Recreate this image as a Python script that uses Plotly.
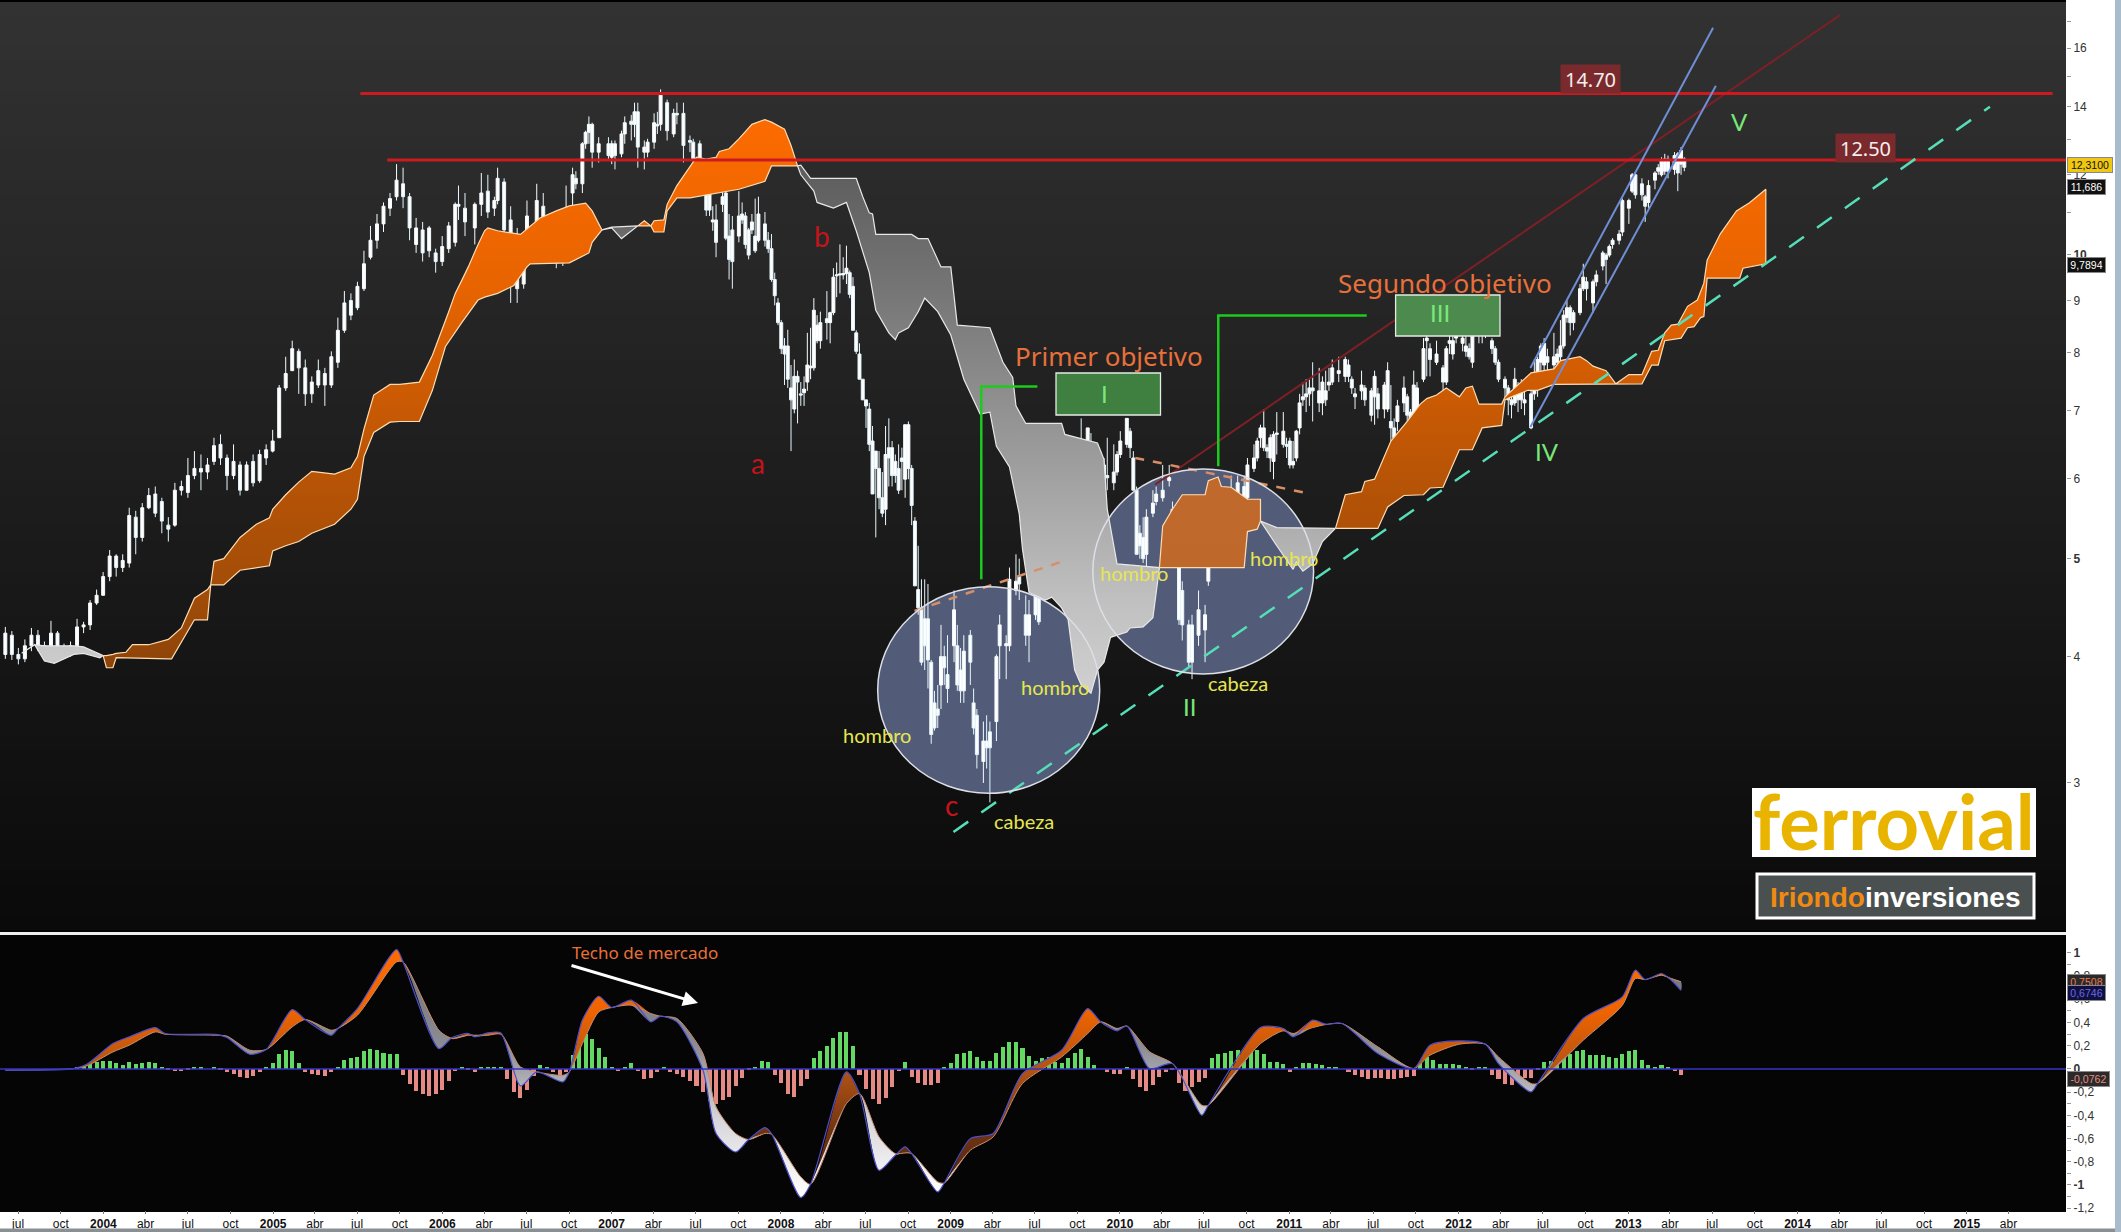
import math
import pandas as pd
import plotly.graph_objects as go

W, H = 2121, 1232
PLOT_R = 2066
T0 = pd.Timestamp("2003-06-03 12:00")
WEEK_DAYS = 7.03

# ---------- weekly candles (week number since start, prices in euros) ----------
bar_weeks = [
    0,2,4,6,8,10,12,14,16,18, 20,22,24,26,28,30,32,34,36,38, 40,42,44,46,48,50,52,54,56,58,
    60,62,64,66,68,70,72,74,76,78, 80,82,84,86,88,90,92,94,96,98, 100,102,104,106,108,110,112,114,116,118, 120,
    122,124,126,128,130,132,134,136,138,139, 141,144,146,148,150,151,153,155,157,159,
    160,163,165,167,169,171,172,174,175,177, 178,179,180,182,185,186,187,189,190,192,
    193,194,196,197,199,200,201,203,205,206, 208,210,211,213,
    215,216,217,218,220,221,222,223,225,226, 227,228,229,230,231,233,234,235,236,237,
    238,239,240,241,242,243,244,245,246,247, 248,249,250,252,253,254,255,256,257,258,
    259,260,261,262,263,264,265,266,267,268, 269,270,271,272,273,274,275,276,277,278,
    279,280,281,282,283,284,285,286,287,288, 289,291,292,293,294,296,297,298,300,301,
    302,304,305,307,308,310,311,313,314,316, 317,319,321,324,326,327,328,329,330,332,
    333,334,336,337,338,340,341,342,344,345, 346,347,348,349,350,352,353,355,357,358,
    360,361,363,364,366,368,369,371,372,374, 375,376,378,380,381,383,384,385,386,387,
    388,389,390,392,393,394,395,396,397,398, 399,400,401,403,404,405,406,407,409,411,
    412,413,414,416,417,419,420,421,423,424, 425,426,427,429,430,431,432,433,435,436,
    437,439,441,442,443,444,445,447,448,449, 450,452,453,454,456,457,458,460,461,462,
    463,464,465,466,468,469,470,471,472,473, 475,476,477,478,479,480,481,483,484,485,
    487,488,490,491,492,493,495,496,498,499, 500,502,503,504,506,507,508,509,510,512,
    513,514,515]
bar_open = [
    4.02,4.2,4.02,3.98,4.1,4.2,4.1,4.0,4.22,4.05, 4.05,4.1,4.28,4.3,4.52,4.6,4.8,5.03,4.9,4.95,
    5.5,5.25,5.62,5.8,5.7,5.4,5.4,5.85,5.82,6.05, 6.15,6.1,6.25,6.5,6.3,6.05,6.2,5.85,6.25,5.98,
    6.3,6.4,6.6,7.4,7.7,8.05,7.75,7.3,7.45,7.65, 7.45,7.85,8.45,9.05,8.9,9.3,10.0,10.4,10.8,11.2, 11.5,
    11.85,11.5,10.3,10.65,10.15,10.1,9.9,10.2,10.35,11.3, 11.2,10.7,11.3,11.65,11.2,11.4,11.9,10.9,9.6,9.4,
    10.4,10.2,11.25,10.6,10.75,10.0,10.3,11.6,12.0,11.85, 13.0,13.35,13.6,12.75,13.0,12.6,13.0,12.7,13.3,13.7,
    13.6,14.0,12.9,12.75,13.05,13.6,13.6,14.3,13.3,13.95, 13.95,13.1,13.05,13.0,
    12.1,11.6,10.85,10.9,11.3,11.6,10.5,10.65,10.5,11.05, 11.0,10.65,10.65,10.5,10.4,10.8,10.4,10.2,9.5,9.0,
    8.6,8.15,8.15,7.4,7.05,7.6,7.3,7.32,7.5,7.75, 7.75,8.25,8.25,8.68,8.6,8.8,9.58,9.6,9.6,9.63,
    9.65,9.35,8.4,8.0,7.55,7.2,7.05,6.55,6.4,6.15, 5.75,5.6,6.45,6.45,6.25,6.15,6.3,6.0,6.15,6.15,
    5.45,4.66,4.47,4.36,4.36,3.95,3.6,3.55,3.75,4.0, 3.84,4.1,4.1,3.88,3.7,4.2,3.6,3.5,3.15,3.3,
    3.37,3.45,4.1,4.1,4.1,4.65,4.8,4.4,4.2,4.4, 4.8,4.8,5.0,4.9,5.15,5.1,5.7,6.2,6.55,6.45,
    6.4,5.85,6.2,5.85,6.05,6.1,6.1,6.35,6.5,6.7, 6.3,5.85,5.3,5.25,5.05,5.55,5.7,5.75,5.98,5.6,
    5.2,4.65,4.3,4.3,4.2,4.25,4.75,5.3,5.4,5.3, 5.35,5.65,5.8,5.9,5.75,6.15,6.3,6.6,6.45,6.45,
    6.3,6.25,6.65,6.5,6.5,6.55,6.2,6.3,6.75,7.2, 7.25,7.3,7.4,7.15,7.15,7.2,7.45,7.5,7.65,7.6,
    7.8,7.55,7.3,7.35,7.4,7.35,7.25,7.3,7.05,7.05, 6.85,6.75,6.85,7.15,7.25,7.0,6.9,6.9,7.55,8.25,
    8.1,7.85,7.75,7.5,8.2,8.0,8.3,8.2,8.05,8.1, 7.85,8.45,8.4,8.4,8.25,8.1,7.85,7.55,7.4,7.2,
    7.15,7.4,7.2,7.15,7.3,7.3,7.55,7.85,7.8,7.85, 7.8,7.85,7.95,8.15,8.7,8.9,8.8,8.8,9.3,9.45,
    9.0,9.45,9.8,10.05,10.05,10.3,10.4,10.6,11.2,11.65, 12.1,11.85,11.5,11.35,11.95,12.2,12.1,12.2,12.55,12.25,
    12.7,12.4,12.55]
bar_close = [
    4.22,4.02,3.98,4.1,4.2,4.1,4.0,4.22,4.05,4.08, 4.1,4.28,4.3,4.52,4.6,4.8,5.03,4.9,4.98,5.52,
    5.25,5.62,5.78,5.55,5.45,5.35,5.85,5.9,6.05,6.15, 6.1,6.2,6.48,6.3,6.05,6.25,5.85,6.2,5.95,6.35,
    6.42,6.55,7.4,7.65,8.1,7.75,7.3,7.5,7.7,7.45, 7.95,8.45,9.0,8.75,9.35,9.85,10.4,10.8,11.25,11.45, 11.95,
    11.5,10.7,10.7,10.1,10.7,9.9,10.25,10.75,11.3,11.25, 10.85,11.3,11.6,11.1,11.4,12.0,10.65,9.65,9.3,10.1,
    11.0,11.4,10.6,10.7,10.15,10.2,11.15,12.1,11.85,13.0, 13.35,13.6,12.75,13.0,12.65,13.0,12.65,13.3,13.65,13.6,
    14.0,12.9,12.75,13.05,13.65,13.55,14.55,13.4,13.95,13.9, 12.95,13.05,12.55,12.3,
    11.15,11.15,10.9,10.35,11.5,10.45,9.95,9.9,11.0,10.9, 10.3,10.05,10.85,10.15,11.05,10.4,10.2,9.5,9.15,8.6,
    8.1,8.0,7.55,7.2,7.6,7.5,7.28,7.38,7.8,7.78, 8.85,8.55,8.6,8.6,8.8,9.55,9.6,9.62,9.63,9.75,
    9.18,8.45,8.05,7.55,7.2,7.1,6.5,5.8,6.15,5.75, 5.55,6.35,6.3,6.05,6.05,5.85,6.25,6.8,6.8,5.65,
    4.7,4.47,3.95,4.1,3.97,3.35,3.4,3.5,4.0,3.9, 3.72,4.45,3.75,3.7,4.05,3.95,3.4,3.2,3.3,3.25,
    3.25,4.0,4.3,4.12,4.77,4.75,4.72,4.2,4.4,4.8, 4.33,5.15,4.95,5.1,4.95,5.68,6.35,6.55,6.4,6.75,
    5.55,6.2,5.95,6.2,6.02,5.95,6.35,6.55,6.9,6.45, 5.85,5.05,5.15,5.0,5.5,5.68,5.8,5.85,6.02,5.05,
    4.35,4.3,3.95,3.95,4.45,4.4,5.3,5.45,5.55,5.03, 5.5,5.87,5.95,5.75,6.2,6.3,6.55,6.75,6.75,6.4,
    6.6,6.65,6.67,6.7,6.47,6.2,6.25,6.7,7.15,7.25, 7.3,7.4,7.35,7.35,7.5,7.35,7.5,7.75,7.7,7.9,
    7.6,7.4,7.25,7.45,7.2,6.95,7.6,7.05,7.45,7.7, 6.75,6.6,7.1,7.4,6.95,6.75,7.45,7.4,8.1,8.3,
    7.9,8.0,7.5,8.1,8.25,8.25,8.35,8.3,8.15,7.95, 8.35,8.4,8.45,8.42,8.1,7.85,7.55,7.4,7.2,7.12,
    7.55,7.2,7.35,7.2,6.75,7.47,7.9,8.15,8.2,7.95, 7.95,8.0,8.15,8.75,8.9,8.6,8.6,9.3,9.55,9.3,
    9.45,9.6,10.1,9.95,10.25,10.4,10.55,11.4,11.4,12.1, 11.55,11.55,11.25,11.8,12.15,12.3,12.5,12.55,12.2,12.65,
    12.15,12.8,12.31]
bar_high = [
    4.28,4.24,4.08,4.16,4.27,4.25,4.14,4.34,4.24,4.12, 4.14,4.36,4.33,4.55,4.66,4.85,5.1,5.05,5.05,5.62,
    5.58,5.68,5.88,5.9,5.75,5.5,5.95,5.98,6.3,6.4, 6.35,6.3,6.6,6.65,6.35,6.5,6.25,6.25,6.35,6.42,
    6.5,6.72,7.45,7.95,8.25,8.1,7.9,7.6,7.9,7.75, 8.05,8.7,9.25,9.2,9.45,10.15,10.75,11.05,11.35,11.6, 12.4,
    12.3,11.6,10.95,10.85,10.75,10.2,10.5,10.85,11.35,11.8, 11.6,11.35,12.15,12.1,11.5,12.3,12.0,11.25,10.7,10.55,
    11.4,11.85,11.6,10.95,10.85,10.4,11.8,12.3,12.2,13.05, 13.4,13.85,13.65,13.2,13.2,13.1,13.1,13.4,13.85,13.9,
    14.3,14.3,13.1,13.15,13.95,14.0,14.75,14.4,14.1,14.3, 14.3,13.25,13.15,13.1,
    12.3,11.8,11.25,11.3,11.8,11.7,11.05,11.0,11.65,11.35, 11.1,10.7,11.05,11.45,11.5,11.1,10.6,10.55,9.65,9.1,
    8.65,8.3,8.46,7.8,7.9,7.7,7.5,7.6,8.4,8.5, 9.1,8.75,8.82,9.25,8.82,9.75,9.88,10.3,10.0,10.27,
    9.7,9.55,8.45,8.2,7.55,7.2,7.15,6.78,6.4,6.4, 6.1,6.78,6.9,6.55,6.35,6.5,6.45,6.8,6.85,6.2,
    5.5,5.15,4.77,4.77,4.72,3.97,3.7,3.75,4.3,4.1, 4.2,4.65,4.3,4.08,4.2,4.25,3.72,3.55,3.45,3.5,
    3.45,4.02,4.4,4.2,4.9,5.05,5.0,4.6,4.55,5.0, 4.85,5.18,5.15,5.2,5.25,5.72,6.5,6.6,6.9,6.75,
    6.67,6.4,6.4,6.3,6.6,6.5,6.4,6.7,6.9,6.75, 6.4,5.9,5.4,5.5,5.6,5.85,5.9,6.2,6.2,5.7,
    5.3,4.75,4.35,4.4,4.65,4.5,5.35,5.6,5.75,5.4, 5.75,6.05,6.05,6.05,6.3,6.5,6.6,6.8,7.05,6.5,
    6.65,6.7,7.0,7.0,6.6,6.6,6.55,6.72,7.3,7.5, 7.55,7.55,7.85,7.75,7.6,7.7,7.75,7.9,7.95,7.95,
    7.9,7.6,7.4,7.7,7.45,7.4,7.7,7.4,7.5,7.85, 7.45,6.9,7.2,7.6,7.3,7.05,7.7,7.5,8.3,8.6,
    8.2,8.25,7.8,8.15,8.35,8.5,8.6,8.65,8.45,8.2, 8.45,8.55,8.6,8.72,8.3,8.15,7.9,7.6,7.45,7.25,
    7.75,7.5,7.55,7.4,7.35,7.9,7.95,8.2,8.3,8.1, 8.4,8.1,8.65,8.85,9.05,8.95,8.85,9.4,9.85,9.55,
    9.5,9.7,10.15,10.1,10.3,10.45,10.65,11.45,11.45,12.15, 12.2,12.0,11.55,11.95,12.2,12.4,12.6,12.7,12.65,12.75,
    12.75,12.9,12.6]
bar_low = [
    3.98,3.97,3.93,3.95,4.05,4.05,3.96,3.99,3.98,4.0, 4.0,4.05,4.22,4.25,4.5,4.6,4.75,4.8,4.85,4.9,
    5.05,5.2,5.6,5.5,5.3,5.2,5.38,5.78,5.75,6.0, 5.85,6.0,6.2,6.2,5.85,6.0,5.78,5.85,5.9,5.95,
    6.2,6.38,6.6,7.35,7.7,7.3,7.1,7.15,7.4,7.1, 7.4,7.75,8.4,8.65,8.85,9.25,9.95,10.2,10.6,11.0, 11.4,
    11.2,10.4,10.1,9.9,10.0,9.65,9.8,10.1,10.25,10.9, 10.5,10.3,11.0,10.95,11.0,11.3,10.5,9.0,9.0,9.3,
    10.3,10.1,10.2,10.3,9.75,9.8,9.9,11.2,11.7,11.6, 12.85,13.0,12.3,12.45,12.5,12.4,12.25,12.6,13.0,13.1,
    13.2,12.3,12.25,12.6,12.85,13.3,13.4,13.1,13.2,13.6, 12.45,12.75,12.15,12.0,
    11.0,11.0,10.63,10.0,11.1,10.4,9.5,9.3,10.35,10.8, 10.2,9.95,10.55,10.1,10.35,10.25,10.1,9.45,8.95,8.55,
    8.0,7.45,7.4,6.4,6.98,6.82,7.1,7.1,7.35,7.55, 7.7,8.2,8.1,8.27,8.2,8.75,9.12,9.2,9.5,9.4,
    9.1,8.45,8.0,7.55,7.2,6.75,6.4,5.8,5.25,5.6, 5.5,5.4,5.9,5.9,5.95,5.8,5.85,5.75,6.0,5.4,
    4.7,4.4,3.92,3.88,3.72,3.28,3.38,3.4,3.55,3.75, 3.6,3.95,3.7,3.6,3.6,3.75,3.35,3.1,3.0,3.1,
    2.87,3.3,3.8,3.8,4.05,4.6,4.55,4.1,3.95,4.35, 4.3,4.7,4.75,4.75,4.8,5.0,5.7,5.95,6.2,6.2,
    5.4,5.8,5.8,5.7,5.85,5.85,6.05,6.3,6.45,6.3, 5.85,5.05,5.0,4.95,4.88,5.5,5.65,5.7,5.9,5.0,
    4.3,4.15,3.9,3.8,4.1,3.95,4.7,5.15,5.3,4.9, 5.2,5.6,5.6,5.7,5.65,6.1,6.25,6.45,6.4,6.3,
    6.1,6.0,6.35,6.45,6.3,6.15,6.15,6.25,6.65,7.1, 7.0,7.1,6.85,7.0,6.95,7.1,7.35,7.45,7.5,7.5,
    7.5,7.3,7.05,7.2,7.1,6.85,6.8,6.9,6.9,7.0, 6.2,6.2,6.7,7.0,6.85,6.55,6.8,6.75,7.5,7.6,
    7.6,7.8,7.25,7.45,8.0,7.9,8.2,8.05,7.95,7.9, 7.75,8.2,8.2,8.3,8.0,7.8,7.5,7.25,6.95,6.9,
    7.1,7.0,7.05,6.95,6.73,7.2,7.25,7.6,7.7,7.7, 7.65,7.55,7.85,8.1,8.6,8.35,8.45,8.75,9.25,9.05,
    8.8,9.35,9.7,9.4,10.0,10.2,10.3,10.5,10.8,11.6, 11.45,11.4,10.85,11.2,11.7,12.1,12.05,12.1,12.0,12.1,
    11.65,12.1,12.2]
assert len(bar_weeks) == len(bar_open) == len(bar_close) == len(bar_high) == len(bar_low), (
    len(bar_weeks), len(bar_open), len(bar_close), len(bar_high), len(bar_low))

# ---------- Ichimoku cloud outlines: (weeks, price) for upper and lower edges ----------
grey_a_up_w = [5,9,12,21,24,29,30]
grey_a_up_p = [4.03,4.11,4.1,4.1,4.09,4.02,4.01]
grey_a_lo_w = [5,9,12,15,21,24,29,30]
grey_a_lo_p = [4.03,4.11,3.96,3.94,4.02,4.03,3.99,4.01]

orange_a_up_w = [30,31,33,34,37,39,44,48,50,54,58,62,63,64,67,72,77,81,82,86,90,94,101,106,108,110,113,118,121,127,131,136,138,140,142,145,147,148,151,158,164,169,173,178,180,183]
orange_a_up_p = [4.01,4.01,4.02,4.03,4.04,4.11,4.11,4.14,4.16,4.27,4.57,4.66,4.71,4.97,5.0,5.25,5.41,5.49,5.6,5.79,5.96,6.11,6.07,6.16,6.32,6.73,7.28,7.46,7.46,7.5,7.98,8.82,9.2,9.48,9.78,10.3,10.63,10.7,10.63,10.54,10.95,11.13,11.26,11.33,11.13,10.65]
orange_a_lo_w = [30,31,33,34,50,51,58,62,63,67,72,81,82,86,90,94,101,106,108,110,113,118,121,127,131,135,140,145,147,151,156,160,161,173,179,180,183]
orange_a_lo_p = [4.01,3.9,3.9,3.99,3.98,3.98,4.35,4.35,4.71,4.71,4.87,4.92,5.09,5.15,5.2,5.3,5.41,5.6,5.73,6.32,6.68,6.84,6.85,6.85,7.36,8.14,8.6,9.06,9.12,9.2,9.37,9.78,9.85,9.87,10.1,10.35,10.65]

grey_b_up_w = [183,186,194]
grey_b_up_p = [10.65,10.72,10.75]
grey_b_lo_w = [183,186,189,192,194]
grey_b_lo_p = [10.65,10.7,10.44,10.63,10.75]

orange_b_up_w = [194,196,198]
orange_b_up_p = [10.75,10.88,10.75]
orange_b_lo_w = [194,198]
orange_b_lo_p = [10.75,10.75]

orange_c_up_w = [198,199,202,203,206,210,212,215,218,219,222,225,229,233,235,239,241,243]
orange_c_up_p = [10.75,10.88,10.9,11.3,11.8,12.35,12.6,12.55,12.6,12.77,12.85,13.15,13.6,13.75,13.67,13.45,12.95,12.35]
orange_c_lo_w = [198,199,202,203,206,210,225,233,235,243]
orange_c_lo_p = [10.75,10.6,10.6,11.13,11.47,11.47,11.7,11.92,12.35,12.35]

grey_c_up_w = [243,244,247,261,263,265,266,267,278,280,283,285,287,290,292,302,306,309,310,313,324,325,329,335,337,338,341,354]
grey_c_up_p = [12.35,12.37,12.0,12.0,11.5,11.08,11.05,10.54,10.54,10.44,10.44,10.1,9.78,9.78,8.55,8.5,7.85,7.58,7.1,6.82,6.82,6.65,6.6,6.52,6.28,5.6,4.94,4.9]
grey_c_lo_w = [243,244,248,249,254,258,259,261,265,267,271,273,274,277,280,282,286,290,294,299,302,304,308,311,312,314,319,321,324,326,328,330,333,335,337,339,344,345,349,352,354]
grey_c_lo_p = [12.35,12.1,11.65,11.35,11.2,11.35,11.13,10.63,9.65,8.85,8.4,8.27,8.4,8.5,8.82,9.1,8.82,8.36,7.55,6.97,7.0,6.47,6.17,5.54,5.11,4.63,4.55,4.58,4.47,4.35,3.88,3.75,3.68,3.88,3.95,4.18,4.23,4.27,4.28,4.37,4.9]

orange_d_up_w = [354,355,358,361,368,369,372,373,376,381,385,385]
orange_d_up_p = [4.9,5.39,5.6,5.79,5.79,5.98,6.03,5.9,5.89,5.73,5.73,5.45]
orange_d_lo_w = [354,380,381,384,385]
orange_d_lo_p = [4.9,4.9,5.32,5.35,5.45]

grey_d_up_w = [385,390,408]
grey_d_up_p = [5.45,5.37,5.36]
grey_d_lo_w = [385,390,395,396,398,401,404,408]
grey_d_lo_p = [5.45,5.15,4.88,4.96,4.86,4.94,5.2,5.36]

orange_e_up_w = [408,411,416,417,420,425,430,434,436,439,442,446,448,450,452,459,460,468,475,477,483,485,487,491,494,498,502,505,507,509,511,513,516,519,521,522,526,531,535,540]
orange_e_up_p = [5.36,5.79,5.83,5.97,6.0,6.55,6.85,7.13,7.22,7.28,7.4,7.25,7.4,7.43,7.13,7.13,7.25,7.66,7.73,7.88,7.95,7.88,7.78,7.7,7.47,7.63,7.63,8.05,8.07,8.4,8.55,8.57,8.93,9.06,9.42,9.93,10.55,11.13,11.34,11.7]
orange_e_lo_w = [408,421,424,429,435,437,441,446,450,453,459,460,462,467,470,475,480,502,505,507,509,514,516,518,520,521,522,532,533,540]
orange_e_lo_p = [5.36,5.36,5.63,5.78,5.79,5.88,5.89,6.42,6.42,6.75,6.79,7.2,7.25,7.36,7.36,7.46,7.47,7.47,7.8,7.8,8.25,8.3,8.5,8.52,8.7,8.72,9.53,9.53,9.75,9.85]

# ---------- MACD lines ----------
macd_weeks = [0,21,25,33,38,46,49,65,68,75,80,88,92,100,102,108,120,122,133,137,142,144,148,152,158,163,171,173,177,182,186,192,198,201,206,214,218,224,228,233,235,244,247,258,262,268,273,276,278,286,288,296,303,312,324,332,336,341,344,351,358,367,369,385,392,395,401,405,410,421,432,437,446,454,458,468,470,484,496,500,503,508,511,514]
macd_fast = [-0.01,0.003,0.04,0.218,0.276,0.356,0.305,0.296,0.27,0.126,0.167,0.511,0.425,0.29,0.348,0.52,1.029,0.922,0.175,0.27,0.305,0.276,0.31,0.31,-0.147,-0.026,-0.112,-0.026,0.42,0.626,0.529,0.592,0.405,0.454,0.405,-0.011,-0.557,-0.716,-0.609,-0.506,-0.557,-1.109,-0.994,-0.026,-0.213,-0.874,-0.744,-0.672,-0.73,-1.06,-0.983,-0.601,-0.557,-0.04,0.161,0.52,0.405,0.328,0.371,0.003,0.046,-0.399,-0.313,0.356,0.348,0.276,0.42,0.385,0.391,0.132,0.003,0.204,0.241,0.213,0.046,-0.198,-0.126,0.434,0.621,0.851,0.77,0.822,0.764,0.678]
macd_signal = [-0.01,0.003,0.026,0.146,0.204,0.319,0.299,0.29,0.282,0.161,0.167,0.362,0.425,0.333,0.348,0.463,0.922,0.922,0.333,0.261,0.29,0.29,0.29,0.299,0.017,-0.026,-0.055,-0.026,0.218,0.491,0.529,0.549,0.477,0.454,0.434,0.132,-0.328,-0.557,-0.609,-0.557,-0.563,-0.931,-0.994,-0.299,-0.213,-0.586,-0.73,-0.724,-0.73,-0.974,-0.983,-0.701,-0.586,-0.126,0.103,0.305,0.405,0.348,0.368,0.147,0.046,-0.313,-0.313,0.218,0.328,0.305,0.356,0.382,0.391,0.19,0.003,0.118,0.213,0.213,0.103,-0.126,-0.126,0.247,0.549,0.779,0.77,0.807,0.779,0.75]

# ---------- MACD histogram, one value every two weeks from week 0 ----------
hist_values = [
    0,0,0,0,0,0,0,0,0,0, 0,0.01,0.02,0.04,0.06,0.07,0.07,0.05,0.03,0.06,
    0.04,0.05,0.06,0.05,0.01,-0.01,-0.02,-0.02,-0.01,0.01, 0.01,0,0.01,-0.01,-0.03,-0.04,-0.07,-0.08,-0.06,-0.03,
    0.01,0.05,0.13,0.16,0.15,0.05,-0.03,-0.04,-0.05,-0.06, -0.03,0.01,0.08,0.09,0.1,0.15,0.17,0.16,0.14,0.13,
    0.13,-0.05,-0.13,-0.19,-0.22,-0.23,-0.22,-0.18,-0.1,-0.02, 0.02,-0.01,-0.03,0.02,0.01,0.02,0.02,-0.09,-0.2,-0.25,
    -0.18,-0.06,0.03,0.01,-0.03,-0.08,-0.03,0.12,0.2,0.3, 0.26,0.18,0.1,0.01,-0.02,0.02,0.05,-0.02,-0.09,-0.08,
    -0.03,0.01,-0.03,-0.04,-0.07,-0.1,-0.15,-0.2,-0.28,-0.3, -0.27,-0.24,-0.15,-0.08,-0.01,0.01,0.07,0.06,-0.05,-0.12,
    -0.22,-0.24,-0.15,-0.09,0.09,0.15,0.2,0.27,0.32,0.32, 0.2,-0.05,-0.17,-0.26,-0.3,-0.25,-0.16,-0.02,0.06,-0.07,
    -0.12,-0.14,-0.14,-0.12,0.01,0.05,0.13,0.14,0.15,0.1, 0.07,0.07,0.14,0.19,0.23,0.23,0.18,0.11,0.07,0.09,
    0.1,0.06,0.05,0.09,0.14,0.17,0.1,0.03,0,-0.03, -0.04,-0.04,0.02,-0.09,-0.16,-0.19,-0.14,-0.07,-0.03,-0.01,
    -0.12,-0.19,-0.16,-0.11,-0.08,0.09,0.13,0.14,0.15,0.16, 0.15,0.15,0.16,0.13,0.06,0.06,0.04,-0.03,0.01,0.05,
    0.05,0.04,0.03,0.01,0.01,0,-0.03,-0.05,-0.07,-0.09, -0.08,-0.08,-0.09,-0.09,-0.08,-0.07,-0.06,0.05,0.1,0.08,
    0.04,0.04,0.04,0.03,0.01,-0.01,0.01,0.01,-0.05,-0.09, -0.13,-0.14,-0.1,-0.08,-0.08,-0.01,0.06,0.07,0.07,0.1,
    0.13,0.15,0.16,0.12,0.12,0.12,0.1,0.09,0.13,0.15, 0.16,0.08,0.03,0.01,0.03,0.02,-0.02,-0.05]

# ---------- drawn levels and trend lines ----------
level_high = 14.43
level_high_dates = ["2005-07-08", "2015-07-05"]
level_low = 12.4
level_low_dates = ["2005-09-04", "2015-08-03"]
trend_red_dates = ["2010-03-18", "2014-04-03"]
trend_red_price = [5.92, 17.25]
trend_cyan_dates = ["2009-01-07", "2015-02-20"]
trend_cyan_price = [2.683, 14.0]
channel_up_dates = ["2012-06-04", "2013-07-03"]
channel_up_price = [7.72, 16.76]
channel_lo_dates = ["2012-06-04", "2013-07-09"]
channel_lo_price = [6.75, 14.68]
bracket1_dates = ["2009-03-08", "2009-03-08", "2009-07-07"]
bracket1_price = [4.77, 7.4, 7.4]
bracket2_dates = ["2010-08-01", "2010-08-01", "2011-06-17"]
bracket2_price = [6.17, 8.7, 8.7]
neck1_dates = ["2008-10-15", "2009-08-25"]
neck1_price = [4.44, 4.96]
neck2_dates = ["2010-02-03", "2011-02-05"]
neck2_price = [6.29, 5.81]

# ---------- tick labels ----------
x_ticks = ["2003-07-01","2003-10-01","2004-01-01","2004-04-01","2004-07-01","2004-10-01","2005-01-01","2005-04-01","2005-07-01","2005-10-01",
           "2006-01-01","2006-04-01","2006-07-01","2006-10-01","2007-01-01","2007-04-01","2007-07-01","2007-10-01","2008-01-01","2008-04-01",
           "2008-07-01","2008-10-01","2009-01-01","2009-04-01","2009-07-01","2009-10-01","2010-01-01","2010-04-01","2010-07-01","2010-10-01",
           "2011-01-01","2011-04-01","2011-07-01","2011-10-01","2012-01-01","2012-04-01","2012-07-01","2012-10-01","2013-01-01","2013-04-01",
           "2013-07-01","2013-10-01","2014-01-01","2014-04-01","2014-07-01","2014-10-01","2015-01-01","2015-04-01"]
month_names = {"01": None, "04": "abr", "07": "jul", "10": "oct"}
x_labels = [month_names[d[5:7]] or f"<b>{d[:4]}</b>" for d in x_ticks]
price_ticks = [3,4,5,6,7,8,9,10,11,12,13,14,15,16,17]
price_labels = ["3","4","<b>5</b>","6","7","8","9","<b>10</b>","","12","","14","","16",""]
macd_ticks = [1,0.9,0.8,0.7,0.6,0.5,0.4,0.3,0.2,0.1,0,-0.1,-0.2,-0.3,-0.4,-0.5,-0.6,-0.7,-0.8,-0.9,-1,-1.1,-1.2]
macd_labels = ["<b>1</b>","","0,8","","0,6","","0,4","","0,2","","<b>0</b>","","-0,2","","-0,4","","-0,6","","-0,8","","<b>-1</b>","","-1,2"]


def wk(w):
    return T0 + pd.Timedelta(days=w * WEEK_DAYS)

def wks(ws):
    return [wk(w) for w in ws]

def px(x):
    return x / W

def py(y):
    return 1 - y / H

def read_cal(prices):
    """Small calibration of the prices read by eye against the log scale (about 1% at the top)."""
    return [round(p * (1 - 0.0013 * max(p - 5, 0)), 3) for p in prices]

bar_dates = wks(bar_weeks)
x_range = ["2003-05-23", "2015-08-03"]

orange_scale = [[0, "#ff6c00"], [0.3, "#e86400"], [0.6, "#b85406"], [0.8, "#a04c08"], [1, "#7c3c0a"]]
orange_circle_scale = [[0, "#c86e30"], [1, "#bc662a"]]
grey_scale = [[0, "#4e4e4e"], [0.3, "#747474"], [0.6, "#a0a0a0"], [0.8, "#c0c0c0"], [1, "#d6d6d6"]]
macd_orange = [[0, "#ff6c00"], [0.25, "#f06400"], [0.5, "#b05214"], [0.75, "#6e3212"], [1, "#4a2410"]]
macd_grey = [[0, "#6e6e78"], [0.4, "#8c8c94"], [0.7, "#d8d8dc"], [1, "#ffffff"]]

fig = go.Figure()


def cloud(up_w, up_p, lo_w, lo_p, scale, edge):
    xs = wks(up_w) + wks(lo_w)[::-1]
    ys = read_cal(up_p) + read_cal(lo_p)[::-1]
    fig.add_trace(go.Scatter(
        x=xs, y=ys, mode="lines", fill="toself",
        fillgradient=dict(type="vertical", colorscale=scale, start=14.5, stop=3.4),
        line=dict(color=edge, width=1.2), hoverinfo="skip", showlegend=False))


# main-pane drawings below the cloud
for segment in [(grey_a_up_w, grey_a_up_p, grey_a_lo_w, grey_a_lo_p),
                (grey_b_up_w, grey_b_up_p, grey_b_lo_w, grey_b_lo_p),
                (grey_c_up_w, grey_c_up_p, grey_c_lo_w, grey_c_lo_p),
                (grey_d_up_w, grey_d_up_p, grey_d_lo_w, grey_d_lo_p)]:
    cloud(*segment, grey_scale, "#e8e8e8")
for segment, scale in [((orange_a_up_w, orange_a_up_p, orange_a_lo_w, orange_a_lo_p), orange_scale),
                       ((orange_b_up_w, orange_b_up_p, orange_b_lo_w, orange_b_lo_p), orange_scale),
                       ((orange_c_up_w, orange_c_up_p, orange_c_lo_w, orange_c_lo_p), orange_scale),
                       ((orange_d_up_w, orange_d_up_p, orange_d_lo_w, orange_d_lo_p), orange_circle_scale),
                       ((orange_e_up_w, orange_e_up_p, orange_e_lo_w, orange_e_lo_p), orange_scale)]:
    cloud(*segment, scale, "#ffdcb0")


def line(xs, ys, color, width, dash="solid"):
    fig.add_trace(go.Scatter(x=xs, y=ys, mode="lines", line=dict(color=color, width=width, dash=dash),
                             hoverinfo="skip", showlegend=False))


line(trend_red_dates, trend_red_price, "#7c2026", 2)
line(neck1_dates, neck1_price, "#d88f68", 2.5, "dash")
line(neck2_dates, neck2_price, "#d88f68", 2.5, "dash")

fig.add_trace(go.Candlestick(
    x=bar_dates, open=read_cal(bar_open), high=read_cal(bar_high), low=read_cal(bar_low), close=read_cal(bar_close),
    increasing=dict(line=dict(color="#f6fcff", width=1), fillcolor="#ffffff"),
    decreasing=dict(line=dict(color="#e6f6fc", width=1), fillcolor="#ffffff"),
    whiskerwidth=0, hoverinfo="skip", showlegend=False))

line(level_high_dates, [level_high, level_high], "#cc1a20", 3)
line(level_low_dates, [level_low, level_low], "#cc1a20", 3)
line(trend_cyan_dates, trend_cyan_price, "#55dfb8", 2.5, "18px,16px")
line(channel_up_dates, channel_up_price, "#6f8ed6", 2)
line(channel_lo_dates, channel_lo_price, "#6f8ed6", 2)
line(bracket1_dates, bracket1_price, "#1ccc1c", 2.5)
line(bracket2_dates, bracket2_price, "#1ccc1c", 2.5)

# lower pane: histogram + MACD ribbon
hist_dates = [wk(2 * i) for i in range(len(hist_values))]
fig.add_trace(go.Bar(
    x=hist_dates, y=hist_values, xaxis="x2", yaxis="y2",
    marker=dict(color=["#63d863" if v >= 0 else "#e58a84" for v in hist_values], line=dict(width=0)),
    width=[2 * WEEK_DAYS * 0.62 * 86400000] * len(hist_values), hoverinfo="skip", showlegend=False))

macd_dates = wks(macd_weeks)
macd_hi = [max(a, b) for a, b in zip(macd_fast, macd_signal)]
macd_lo = [min(a, b) for a, b in zip(macd_fast, macd_signal)]
for upper, lower, scale in [(macd_hi, macd_signal, macd_orange), (macd_signal, macd_lo, macd_grey)]:
    fig.add_trace(go.Scatter(
        x=macd_dates + macd_dates[::-1], y=upper + lower[::-1], xaxis="x2", yaxis="y2",
        mode="lines", fill="toself", line=dict(width=0, shape="spline", smoothing=0.7),
        fillgradient=dict(type="vertical", colorscale=scale, start=1.05, stop=-1.1),
        hoverinfo="skip", showlegend=False))
fig.add_trace(go.Scatter(x=macd_dates, y=macd_signal, xaxis="x2", yaxis="y2", mode="lines",
                         line=dict(color="#c88c6c", width=1, shape="spline", smoothing=0.7), hoverinfo="skip", showlegend=False))
fig.add_trace(go.Scatter(x=macd_dates, y=macd_fast, xaxis="x2", yaxis="y2", mode="lines",
                         line=dict(color="#4d50c8", width=1.2, shape="spline", smoothing=0.7), hoverinfo="skip", showlegend=False))
fig.add_trace(go.Scatter(x=x_range, y=[0, 0], xaxis="x2", yaxis="y2", mode="lines",
                         line=dict(color="#3434c4", width=1.5), hoverinfo="skip", showlegend=False))

# ---------- shapes ----------
shapes = []
STEPS = 62
for i in range(STEPS):
    y0, y1 = 930 * i / STEPS, 930 * (i + 1) / STEPS + 1
    v = round(50 - (50 - 10) * (i / (STEPS - 1)))
    shapes.append(dict(type="rect", xref="paper", yref="paper", x0=0, x1=px(PLOT_R), y0=py(y1), y1=py(y0),
                       fillcolor=f"rgb({v},{v},{v})", line_width=0, layer="below"))


def rect(x0, y0, x1, y1, fill, lc=None, lw=0, layer="above"):
    shapes.append(dict(type="rect", xref="paper", yref="paper", x0=px(x0), x1=px(x1), y0=py(y1), y1=py(y0),
                       fillcolor=fill, line=dict(color=lc or fill, width=lw), layer=layer))


def ellipse(x0, y0, x1, y1, fill, lc, lw, layer):
    shapes.append(dict(type="circle", xref="paper", yref="paper", x0=px(x0), x1=px(x1), y0=py(y1), y1=py(y0),
                       fillcolor=fill, line=dict(color=lc, width=lw), layer=layer))


rect(0, 930, PLOT_R, 1212, "#050505", layer="below")
for box in [(877.7, 586.7, 1099.7, 793.3), (1092.8, 469, 1313.6, 674)]:
    ellipse(*box, "#525c78", "#525c78", 0, "below")
    ellipse(*box, "rgba(0,0,0,0)", "#dcdfe6", 1.5, "above")
rect(0, 932, PLOT_R, 935, "#eeeeee")
rect(0, 0, PLOT_R, 2, "#000000")
rect(0, 1228.5, W, 1232, "#8a8f94")
rect(2115, 0, W, 1232, "#a9bccb")
rect(1056, 373, 1160.5, 415, "#3f7f3f", "#e4ece4", 1.3)
rect(1395.6, 295, 1500, 336, "#4d8a4d", "#e4ece4", 1.3)
rect(1752, 788, 2036, 857, "#ffffff")
rect(1757, 874, 2034, 918, "#4a5050", "#ffffff", 3)

# ---------- text ----------
ann = []


def text(x, y, s, color, size, family="Lato", anchor="center", **kw):
    ann.append(dict(x=px(x), y=py(y), xref="paper", yref="paper", text=s, showarrow=False, xanchor=anchor,
                    yanchor="middle", font=dict(color=color, size=size, family=family), **kw))


COMIC = "Noto Sans"
text(1109, 356, "Primer objetivo", "#e8703a", 26, COMIC)
text(1445, 283, "Segundo objetivo", "#e8703a", 26, COMIC)
text(645, 952, "Techo de mercado", "#e8703a", 17, COMIC)
for x, y, s in [(758, 463, "a"), (822, 236, "b"), (951, 805, "c")]:
    text(x, y, s, "#c4141a", 28)
for x, y in [(877, 735), (1055, 687), (1134, 573), (1284, 558)]:
    text(x, y, "hombro", "#e6e650", 20)
for x, y in [(1024, 821), (1238, 683)]:
    text(x, y, "cabeza", "#e6e650", 20)
for x, y, s in [(1104, 393, "I"), (1189, 706, "II"), (1440, 313, "III"), (1547, 451, "IV"), (1739, 122, "V")]:
    text(x, y, s, "#78e878", 24)
text(1590, 79, "14.70", "#f4eeee", 20, "Noto Sans", bgcolor="#7a2a2c", width=59, height=28, borderpad=0)
text(1865, 148, "12.50", "#f4eeee", 20, "Noto Sans", bgcolor="#7a2a2c", width=59, height=28, borderpad=0)
text(1894, 820, "<b>ferrovial</b>", "#e8b400", 76, "Lato")
text(1895, 897, '<b><span style="color:#f08a10">Iriondo</span>inversiones</b>', "#ffffff", 28, "Liberation Sans")

TAG = "Liberation Sans"
for y, s, bg, fg, wid in [(165, "12,3100", "#f0c814", "#111111", 42), (187, "11,686", "#111111", "#ffffff", 35),
                          (265, "9,7894", "#111111", "#ffffff", 35), (982, "0,7508", "#2a2a2a", "#e8785a", 35),
                          (993, "0,6746", "#101040", "#6a6ae0", 35), (1079, "-0,0762", "#2a2a2a", "#e88a80", 39)]:
    text(2069 + wid / 2, y, s, fg, 10.5, TAG, bgcolor=bg, bordercolor="#888888", borderwidth=1, borderpad=1, width=wid, height=12)

# white arrow "Techo de mercado"
ann.append(dict(x=px(698), y=py(1003), ax=-128, ay=-38, xref="paper", yref="paper", axref="pixel", ayref="pixel",
                text="", showarrow=True, arrowhead=2, arrowsize=1, arrowwidth=3, arrowcolor="#ffffff"))

fig.update_layout(
    width=W, height=H, autosize=False, margin=dict(l=0, r=0, t=0, b=0, pad=0),
    paper_bgcolor="#ffffff", plot_bgcolor="rgba(0,0,0,0)", showlegend=False, hovermode=False,
    shapes=shapes, annotations=ann, bargap=0, boxgap=0.05, boxgroupgap=0.05,
    xaxis=dict(domain=[0, px(PLOT_R)], range=x_range, type="date", anchor="y", visible=False,
               rangeslider=dict(visible=False), showgrid=False, fixedrange=True),
    yaxis=dict(domain=[py(930), 1], type="log", range=[math.log10(2.146), math.log10(17.85)], side="right", anchor="x",
               tickmode="array", tickvals=price_ticks, ticktext=price_labels, ticks="outside", ticklen=4,
               tickcolor="#999999", tickfont=dict(family="Liberation Sans", size=12, color="#333333"),
               showgrid=False, zeroline=False, showline=False, automargin=False),
    xaxis2=dict(domain=[0, px(PLOT_R)], range=x_range, type="date", anchor="y2", tickmode="array", tickvals=x_ticks,
                ticktext=x_labels, ticks="outside", ticklen=3, tickcolor="#777777", showgrid=False, zeroline=False,
                tickangle=0, showline=False, automargin=False,
                tickfont=dict(family="Liberation Sans", size=12, color="#111111")),
    yaxis2=dict(domain=[py(1210), py(938)], range=[-1.216, 1.128], side="right", anchor="x2", tickmode="array",
                tickvals=macd_ticks, ticktext=macd_labels, ticks="outside", ticklen=4, tickcolor="#999999",
                tickfont=dict(family="Liberation Sans", size=12, color="#333333"),
                showgrid=False, zeroline=False, showline=False, automargin=False),
)

fig.write_html("out.html", config=dict(displayModeBar=False, responsive=False),
               post_script="document.body.style.margin='0';document.documentElement.style.overflow='hidden';")
